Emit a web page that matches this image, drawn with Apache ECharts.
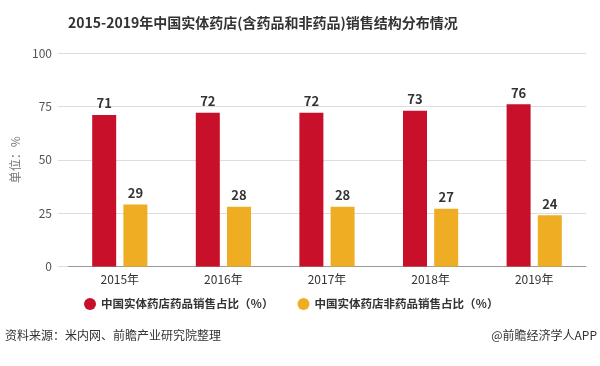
<!DOCTYPE html>
<html><head><meta charset="utf-8">
<script src="https://cdn.jsdelivr.net/npm/echarts@6/dist/echarts.min.js"></script>
<style>html,body{margin:0;padding:0;background:#fff}#c{width:600px;height:366px}</style>
</head><body><div id="c"></div>
<script>
var categories = ['2015年','2016年','2017年','2018年','2019年'];
var drugShare = [71, 72, 72, 73, 76];
var nonDrugShare = [29, 28, 28, 27, 24];
var seriesNames = ['中国实体药店药品销售占比（％）','中国实体药店非药品销售占比（％）'];
var yTicks = [0, 25, 50, 75, 100];

var font = '"Microsoft YaHei","Noto Sans CJK SC",sans-serif';
var chart = echarts.init(document.getElementById('c'));
chart.setOption({
  animation:false,
  textStyle:{fontFamily:font},
  title:{text:'2015-2019年中国实体药店(含药品和非药品)销售结构分布情况',left:63,top:11,
    textStyle:{fontSize:14,fontWeight:'bold',color:'#333',fontFamily:font}},
  grid:{left:68,right:14,top:53,bottom:99.5},
  legend:{data:seriesNames,left:79,top:293,icon:'circle',itemWidth:12,itemHeight:12,itemGap:24,
    textStyle:{fontSize:11.5,color:'#333',fontWeight:'bold',fontFamily:font}},
  graphic:[
    {type:'text',left:5,top:329,style:{text:'资料来源：米内网、前瞻产业研究院整理',fontSize:12,fill:'#333',fontFamily:font}},
    {type:'text',right:3,top:329,style:{text:'@前瞻经济学人APP',fontSize:12,fill:'#333',fontFamily:font}}
  ],
  xAxis:{type:'category',data:categories,
    axisLine:{lineStyle:{color:'#999'}},
    axisTick:{alignWithLabel:true,length:5,lineStyle:{color:'#999'}},
    axisLabel:{color:'#333',fontSize:12,margin:7}},
  yAxis:{type:'value',min:0,max:100,interval:25,name:'单位：%',nameLocation:'middle',nameGap:41,
    nameTextStyle:{color:'#777',fontSize:12},
    axisLine:{show:false},
    axisTick:{show:true,length:10,lineStyle:{color:'#ddd'}},
    axisLabel:{color:'#555',fontSize:12,margin:16,
      formatter:function(v){return yTicks.indexOf(v)>=0?String(v):'';}},
    splitLine:{lineStyle:{color:'#ddd'}}},
  series:[
    {name:seriesNames[0],type:'bar',data:drugShare,barWidth:24,barGap:'30%',
      itemStyle:{color:'#c8102a'},
      label:{show:true,position:'top',distance:5,fontSize:13,fontWeight:'bold',color:'#333'}},
    {name:seriesNames[1],type:'bar',data:nonDrugShare,barWidth:24,
      itemStyle:{color:'#efad24'},
      label:{show:true,position:'top',distance:5,fontSize:13,fontWeight:'bold',color:'#333'}}
  ]
});
</script></body></html>
